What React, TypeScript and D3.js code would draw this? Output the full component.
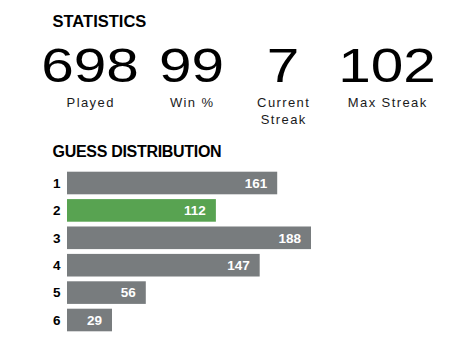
import React from "react";
import * as d3 from "d3";

const statValues = ["698", "99", "7", "102"];
const statLabels = [["Played"], ["Win %"], ["Current", "Streak"], ["Max Streak"]];
const guesses = ["1", "2", "3", "4", "5", "6"];
const counts = [161, 112, 188, 147, 56, 29];
const highlightGuess = "2";

const W = 464;
const H = 358;

export default function App() {
  const colX = d3.scalePoint<number>().domain([0, 1, 2, 3]).range([90, 387]);
  const statCenters = [90, 191.5, 283, 387];
  const y = d3.scaleBand<string>().domain(guesses).range([169.3, 333.7]).paddingInner(0.175).paddingOuter(0.0875);
  const maxV = d3.max(counts) as number;
  const barStart = 67;
  const x = d3.scaleLinear().domain([0, maxV]).range([barStart + 8.7, 311]);
  void colX;
  const sans = "'Liberation Sans', Arial, sans-serif";
  return (
    <svg width={W} height={H} style={{ position: "absolute", left: 0, top: 0, background: "#fff" }}>
      <text x={52.5} y={27} fontFamily={sans} fontWeight={700} fontSize={16.5} fill="#000">STATISTICS</text>
      {statValues.map((v, i) => (
        <text key={"v" + i} transform={`translate(${statCenters[i]},81.7) scale(1.22,1)`} textAnchor="middle"
          fontFamily={sans} fontSize={48} fill="#000">{v}</text>
      ))}
      {statLabels.map((lines, i) => (
        <text key={"l" + i} textAnchor="middle" fontFamily={sans} fontSize={13} letterSpacing={1.4} fill="#1a1a1b">
          {lines.map((ln, j) => (
            <tspan key={j} x={statCenters[i] + 0.7} y={106.7 + j * 17.5}>{ln}</tspan>
          ))}
        </text>
      ))}
      <text x={52.5} y={156.5} fontFamily={sans} fontWeight={700} fontSize={16} letterSpacing={-0.3} fill="#000">GUESS DISTRIBUTION</text>
      {guesses.map((g, i) => {
        const by = y(g) as number;
        const bh = y.bandwidth();
        const xe = x(counts[i]);
        return (
          <g key={g}>
            <text x={53} y={by + bh / 2 + 4.8} fontFamily={sans} fontWeight={700} fontSize={13.5} fill="#000">{g}</text>
            <rect x={barStart} y={by} width={xe - barStart} height={bh} fill={g === highlightGuess ? "#58a351" : "#787c7e"} />
            <text x={xe - 10} y={by + bh / 2 + 4.8} textAnchor="end" fontFamily={sans} fontWeight={700} fontSize={13.5} fill="#fff">{counts[i]}</text>
          </g>
        );
      })}
    </svg>
  );
}
